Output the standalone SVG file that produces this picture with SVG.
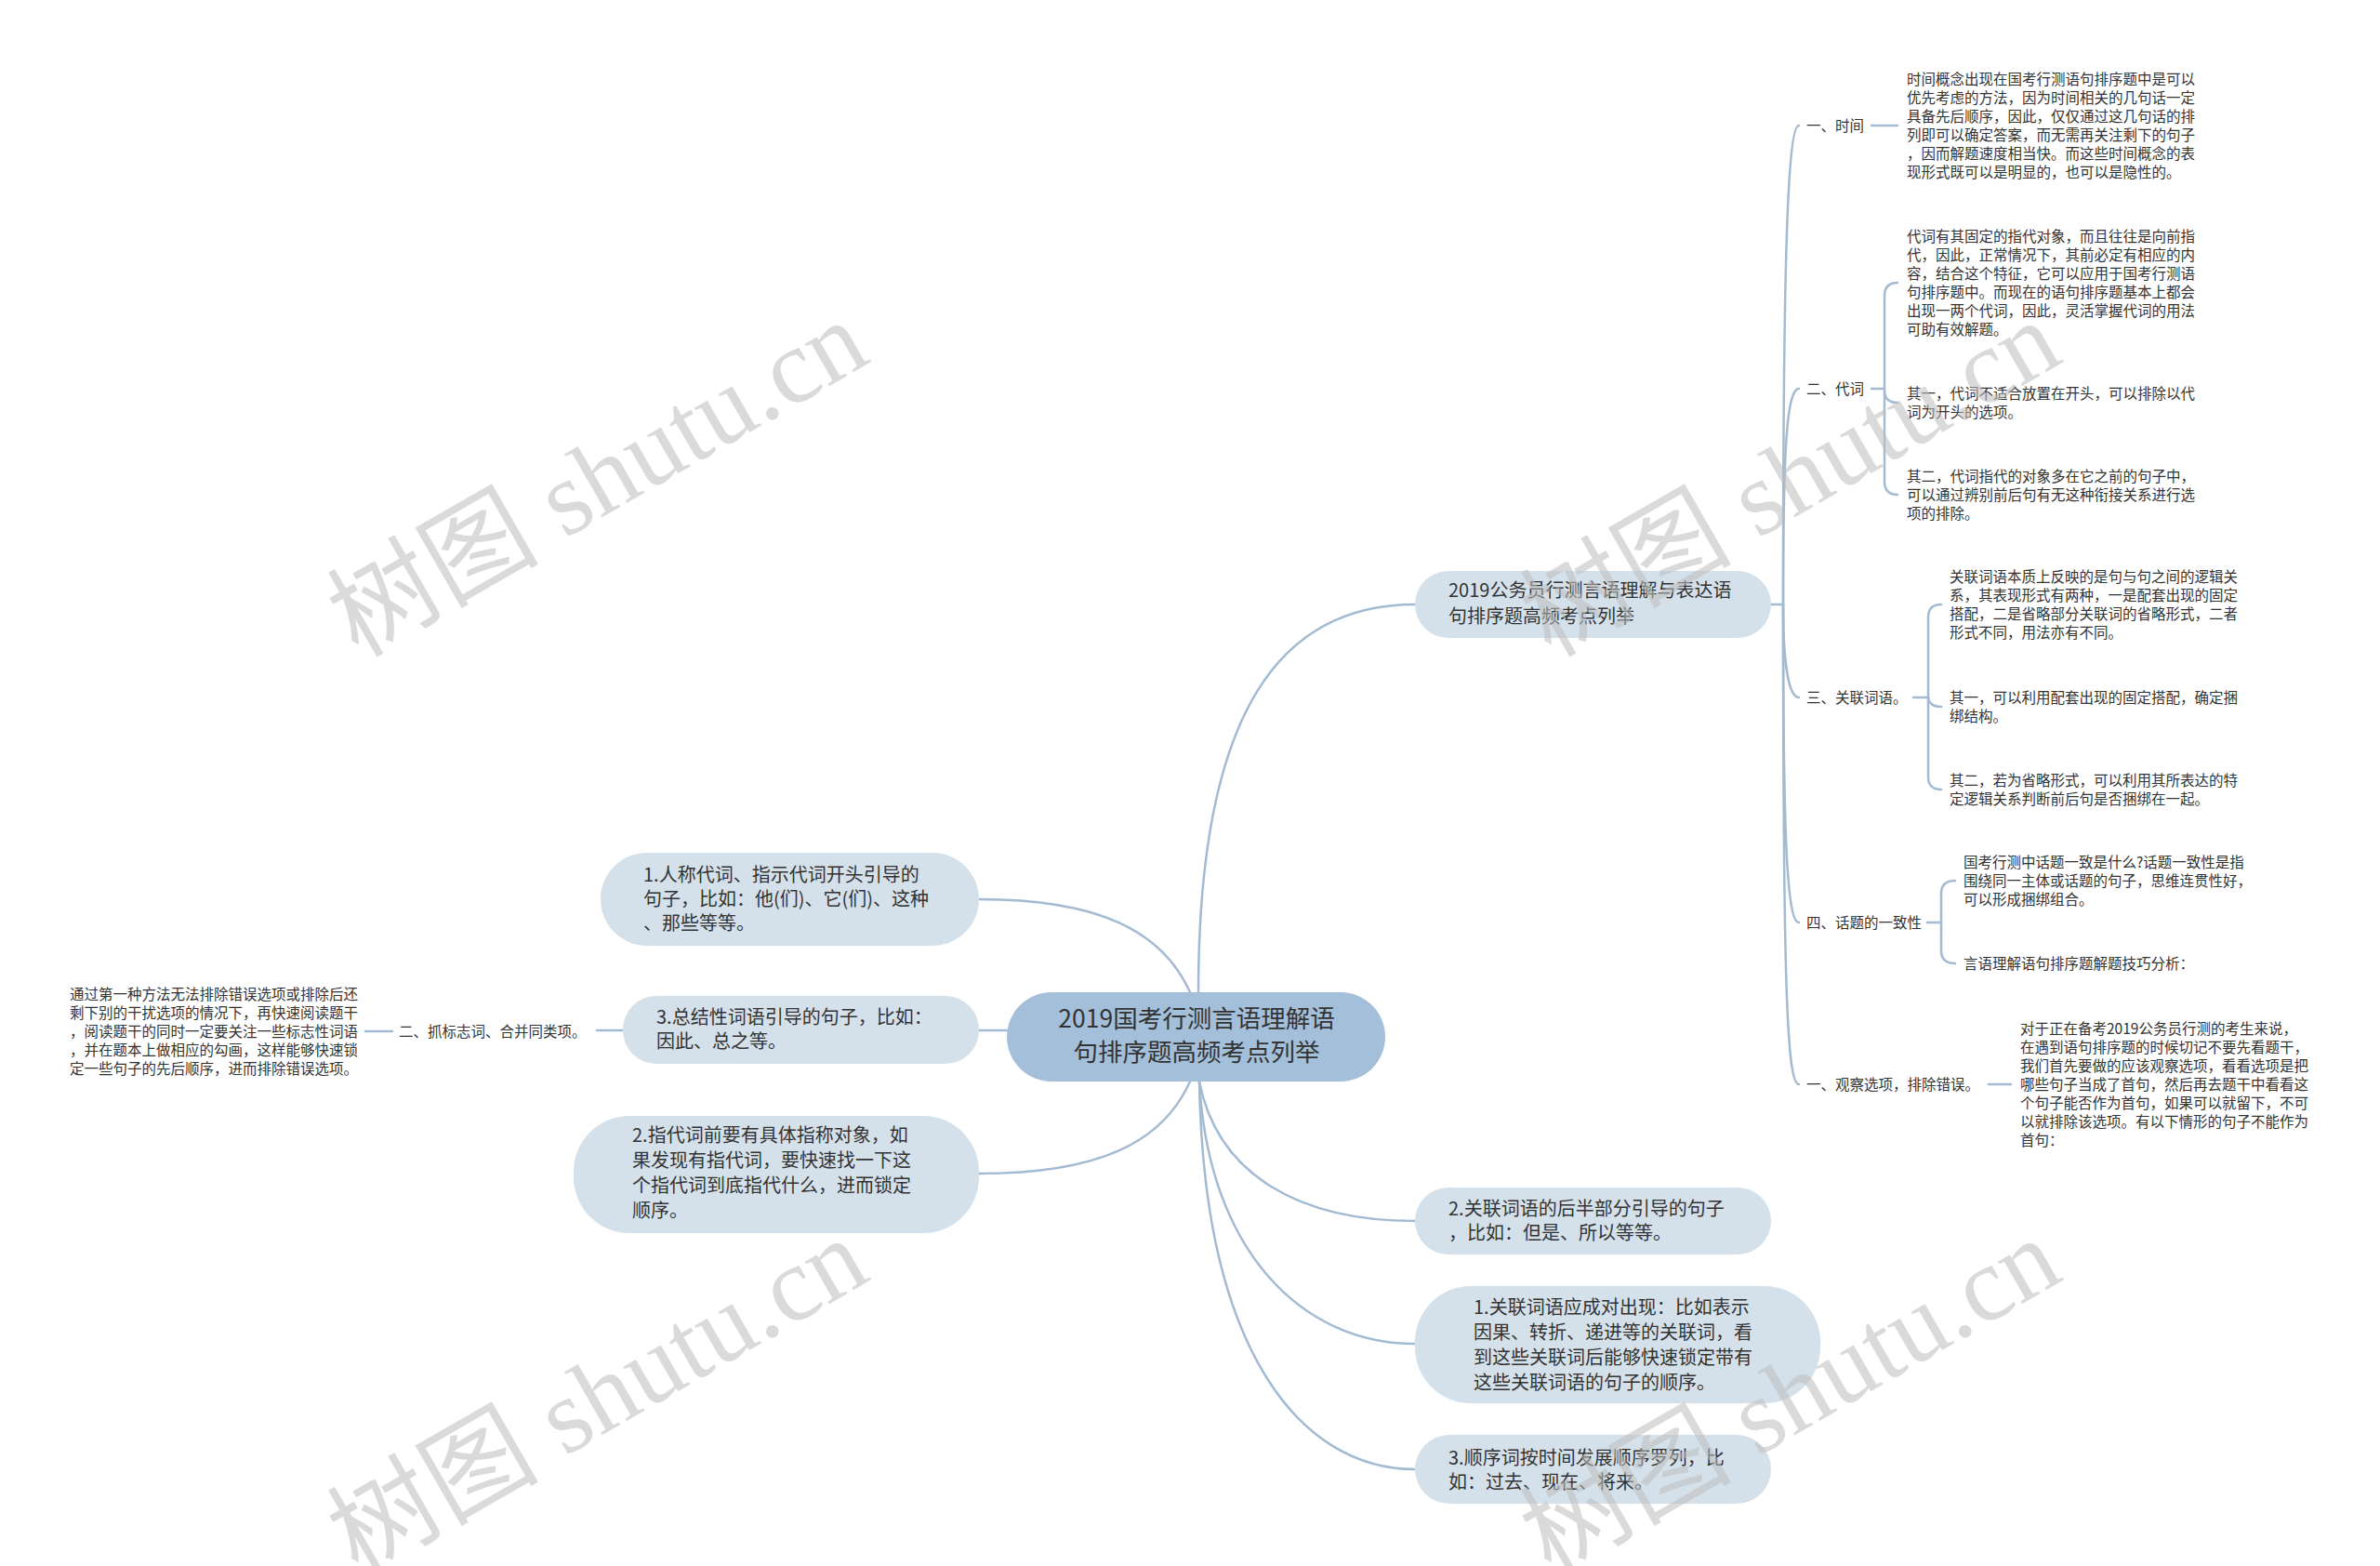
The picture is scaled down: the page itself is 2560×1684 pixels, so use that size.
<svg xmlns="http://www.w3.org/2000/svg" width="2560" height="1684" viewBox="0 0 2560 1684">
<style>
.t{font-family:"Noto Sans CJK SC","Liberation Sans",sans-serif;fill:#333}
.s{font-size:15.5px}
.m{font-size:20px}
.c{font-size:26.5px}
.ln{fill:none;stroke:#a2bbd3;stroke-width:2.5;stroke-linecap:round}
.node{fill:#d5e1ea}
.root{fill:#a3bfda}
.wm{font-family:"Liberation Serif","Noto Sans CJK SC",serif;font-size:114px;fill:#bdbdbd;opacity:0.55}
</style>
<rect width="2560" height="1684" fill="#fff"/>

<g id="connectors">
<path class="ln" d="M1289,1067 C1289,760 1380,650 1522,650"/>
<path class="ln" d="M1280,1067 C1250,1000 1180,967 1053,967"/>
<path class="ln" d="M1083,1108 L1053,1108"/>
<path class="ln" d="M1280,1163 C1250,1230 1180,1262 1053,1262"/>
<path class="ln" d="M1290,1163 C1310,1265 1400,1313 1522,1313"/>
<path class="ln" d="M1290,1163 C1300,1345 1400,1445 1522,1445"/>
<path class="ln" d="M1290,1163 C1295,1455 1400,1580 1522,1580"/>
<path class="ln" d="M669,1108 L642,1108"/>
<path class="ln" d="M422,1109 L393,1109"/>
<path class="ln" d="M1905,650 L1918,650"/>
<path class="ln" d="M1918,650 C1918,300 1922,135 1935,135"/>
<path class="ln" d="M1918,650 C1918,480 1922,418 1935,418"/>
<path class="ln" d="M1918,650 C1918,700 1922,750 1935,750"/>
<path class="ln" d="M1918,650 C1918,900 1922,992 1935,992"/>
<path class="ln" d="M1918,650 C1918,1060 1922,1166 1935,1166"/>
<path class="ln" d="M2013,135 L2041,135"/>
<path class="ln" d="M2013,418 L2027,418"/>
<path class="ln" d="M2041,304 Q2027,304 2027,318 L2027,518 Q2027,532 2041,532"/>
<path class="ln" d="M2027,420 Q2027,433 2041,433"/>
<path class="ln" d="M2058,750 L2074,750"/>
<path class="ln" d="M2088,650 Q2074,650 2074,664 L2074,835 Q2074,849 2088,849"/>
<path class="ln" d="M2074,748 Q2074,760 2088,760"/>
<path class="ln" d="M2073,992 L2088,992"/>
<path class="ln" d="M2103,947 Q2088,947 2088,961 L2088,1022 Q2088,1036 2103,1036"/>
<path class="ln" d="M2139,1166 L2163,1166"/>
</g>

<g id="root">
<rect class="root" x="1083" y="1067" width="407" height="96" rx="48"/>
<text class="t c" text-anchor="middle"><tspan x="1287" y="1105">2019国考行测言语理解语</tspan><tspan x="1287" y="1141">句排序题高频考点列举</tspan></text>
</g>

<g id="n-r-main">
<rect class="node" x="1522" y="614" width="383" height="72" rx="36"/>
<text class="t m"><tspan x="1558" y="642">2019公务员行测言语理解与表达语</tspan><tspan x="1558" y="670">句排序题高频考点列举</tspan></text>
</g>

<g id="n-l1">
<rect class="node" x="646" y="917" width="407" height="100" rx="50"/>
<text class="t m"><tspan x="692" y="948">1.人称代词、指示代词开头引导的</tspan><tspan x="692" y="974">句子，比如：他(们)、它(们)、这种</tspan><tspan x="692" y="1000">、那些等等。</tspan></text>
</g>

<g id="n-l3">
<rect class="node" x="670" y="1071" width="383" height="73" rx="36"/>
<text class="t m"><tspan x="706" y="1101">3.总结性词语引导的句子，比如：</tspan><tspan x="706" y="1127">因此、总之等。</tspan></text>
</g>

<g id="n-l2">
<rect class="node" x="617" y="1200" width="436" height="126" rx="60"/>
<text class="t m"><tspan x="680" y="1228">2.指代词前要有具体指称对象，如</tspan><tspan x="680" y="1255">果发现有指代词，要快速找一下这</tspan><tspan x="680" y="1282">个指代词到底指代什么，进而锁定</tspan><tspan x="680" y="1309">顺序。</tspan></text>
</g>

<g id="n-l3-child">
<text class="t s" x="429" y="1114.5">二、抓标志词、合并同类项。</text>
</g>

<g id="n-l3-detail">
<text class="t s"><tspan x="75" y="1074.5">通过第一种方法无法排除错误选项或排除后还</tspan><tspan x="75" y="1094.5">剩下别的干扰选项的情况下，再快速阅读题干</tspan><tspan x="75" y="1114.5">，阅读题干的同时一定要关注一些标志性词语</tspan><tspan x="75" y="1134.5">，并在题本上做相应的勾画，这样能够快速锁</tspan><tspan x="75" y="1154.5">定一些句子的先后顺序，进而排除错误选项。</tspan></text>
</g>

<g id="n-r2">
<rect class="node" x="1522" y="1277" width="383" height="72" rx="36"/>
<text class="t m"><tspan x="1558" y="1307">2.关联词语的后半部分引导的句子</tspan><tspan x="1558" y="1333">，比如：但是、所以等等。</tspan></text>
</g>

<g id="n-r1">
<rect class="node" x="1522" y="1383" width="436" height="126" rx="60"/>
<text class="t m"><tspan x="1585" y="1413">1.关联词语应成对出现：比如表示</tspan><tspan x="1585" y="1440">因果、转折、递进等的关联词，看</tspan><tspan x="1585" y="1467">到这些关联词后能够快速锁定带有</tspan><tspan x="1585" y="1494">这些关联词语的句子的顺序。</tspan></text>
</g>

<g id="n-r3">
<rect class="node" x="1522" y="1543" width="383" height="74" rx="37"/>
<text class="t m"><tspan x="1558" y="1575">3.顺序词按时间发展顺序罗列，比</tspan><tspan x="1558" y="1601">如：过去、现在、将来。</tspan></text>
</g>

<g id="n-time">
<text class="t s" x="1943" y="140.5">一、时间</text>
<text class="t s"><tspan x="2051" y="90.5">时间概念出现在国考行测语句排序题中是可以</tspan><tspan x="2051" y="110.5">优先考虑的方法，因为时间相关的几句话一定</tspan><tspan x="2051" y="130.5">具备先后顺序，因此，仅仅通过这几句话的排</tspan><tspan x="2051" y="150.5">列即可以确定答案，而无需再关注剩下的句子</tspan><tspan x="2051" y="170.5">，因而解题速度相当快。而这些时间概念的表</tspan><tspan x="2051" y="190.5">现形式既可以是明显的，也可以是隐性的。</tspan></text>
</g>

<g id="n-pron">
<text class="t s" x="1943" y="423.5">二、代词</text>
<text class="t s"><tspan x="2051" y="259.5">代词有其固定的指代对象，而且往往是向前指</tspan><tspan x="2051" y="279.5">代，因此，正常情况下，其前必定有相应的内</tspan><tspan x="2051" y="299.5">容，结合这个特征，它可以应用于国考行测语</tspan><tspan x="2051" y="319.5">句排序题中。而现在的语句排序题基本上都会</tspan><tspan x="2051" y="339.5">出现一两个代词，因此，灵活掌握代词的用法</tspan><tspan x="2051" y="359.5">可助有效解题。</tspan></text>
<text class="t s"><tspan x="2051" y="428.5">其一，代词不适合放置在开头，可以排除以代</tspan><tspan x="2051" y="448.5">词为开头的选项。</tspan></text>
<text class="t s"><tspan x="2051" y="517.5">其二，代词指代的对象多在它之前的句子中，</tspan><tspan x="2051" y="537.5">可以通过辨别前后句有无这种衔接关系进行选</tspan><tspan x="2051" y="557.5">项的排除。</tspan></text>
</g>

<g id="n-conj">
<text class="t s" x="1943" y="755.5">三、关联词语。</text>
<text class="t s"><tspan x="2097" y="625.5">关联词语本质上反映的是句与句之间的逻辑关</tspan><tspan x="2097" y="645.5">系，其表现形式有两种，一是配套出现的固定</tspan><tspan x="2097" y="665.5">搭配，二是省略部分关联词的省略形式，二者</tspan><tspan x="2097" y="685.5">形式不同，用法亦有不同。</tspan></text>
<text class="t s"><tspan x="2097" y="755.5">其一，可以利用配套出现的固定搭配，确定捆</tspan><tspan x="2097" y="775.5">绑结构。</tspan></text>
<text class="t s"><tspan x="2097" y="844.5">其二，若为省略形式，可以利用其所表达的特</tspan><tspan x="2097" y="864.5">定逻辑关系判断前后句是否捆绑在一起。</tspan></text>
</g>

<g id="n-topic">
<text class="t s" x="1943" y="997.5">四、话题的一致性</text>
<text class="t s"><tspan x="2112" y="932.5">国考行测中话题一致是什么?话题一致性是指</tspan><tspan x="2112" y="952.5">围绕同一主体或话题的句子，思维连贯性好，</tspan><tspan x="2112" y="972.5">可以形成捆绑组合。</tspan></text>
<text class="t s" x="2112" y="1041.5">言语理解语句排序题解题技巧分析：</text>
</g>

<g id="n-observe">
<text class="t s" x="1943" y="1171.5">一、观察选项，排除错误。</text>
<text class="t s"><tspan x="2173" y="1111.5">对于正在备考2019公务员行测的考生来说，</tspan><tspan x="2173" y="1131.5">在遇到语句排序题的时候切记不要先看题干，</tspan><tspan x="2173" y="1151.5">我们首先要做的应该观察选项，看看选项是把</tspan><tspan x="2173" y="1171.5">哪些句子当成了首句，然后再去题干中看看这</tspan><tspan x="2173" y="1191.5">个句子能否作为首句，如果可以就留下，不可</tspan><tspan x="2173" y="1211.5">以就排除该选项。有以下情形的句子不能作为</tspan><tspan x="2173" y="1231.5">首句：</tspan></text>
</g>

<g id="watermarks">
<text class="wm" text-anchor="middle" transform="translate(662,548) rotate(-30)">树图 shutu.cn</text>
<text class="wm" text-anchor="middle" transform="translate(1945,548) rotate(-30)">树图 shutu.cn</text>
<text class="wm" text-anchor="middle" transform="translate(662,1535) rotate(-30)">树图 shutu.cn</text>
<text class="wm" text-anchor="middle" transform="translate(1945,1535) rotate(-30)">树图 shutu.cn</text>
</g>
</svg>
